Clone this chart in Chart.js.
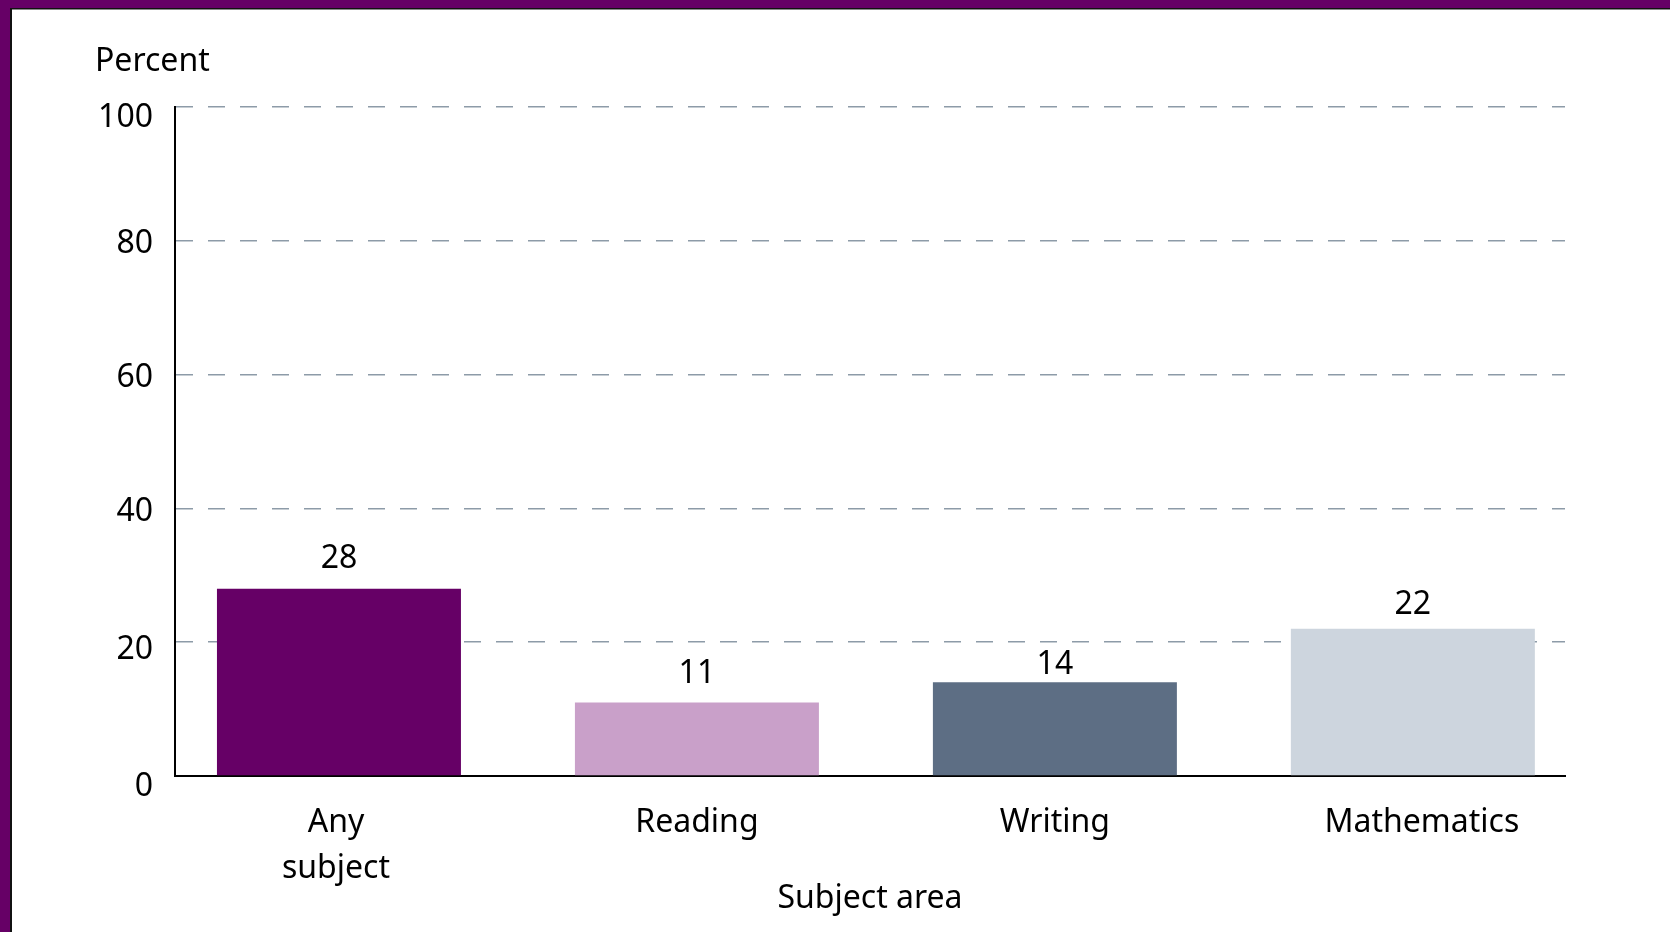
<!DOCTYPE html>
<html>
<head>
<meta charset="utf-8">
<script src="https://cdn.jsdelivr.net/npm/chart.js@4/dist/chart.umd.min.js"></script>
<style>
  html, body { margin: 0; padding: 0; background: #ffffff; }
  #wrap { position: relative; width: 1670px; height: 932px; overflow: hidden; background: #ffffff; }
  #c { position: absolute; left: 0; top: 0; }
  .edge { position: absolute; pointer-events: none; }
</style>
</head>
<body>
<div id="wrap">
  <canvas id="c" width="1670" height="932"></canvas>
  <div class="edge" style="left:0;top:0;width:1670px;height:8px;background:#660066;"></div>
  <div class="edge" style="left:10px;top:8px;width:1660px;height:1px;background:#111;"></div>
  <div class="edge" style="left:10px;top:9px;width:1660px;height:1px;background:#888;"></div>
  <div class="edge" style="left:0;top:0;width:10px;height:932px;background:#660066;"></div>
  <div class="edge" style="left:10px;top:8px;width:2px;height:924px;background:#111;"></div>
</div>
<script>
// ---- data ----
const categories = [["Any", "subject"], "Reading", "Writing", "Mathematics"];
const values = [28, 11, 14, 22];
const yTicks = [0, 20, 40, 60, 80, 100];

// ---- styling ----
const barColors = ["#660066", "#C9A0C9", "#5D6E84", "#CDD5DE"];
const labelGaps = [21, 19, 8, 15];          // value label baseline above bar top
const yLabelNudge = [11, 8, 3, 3, 3, 11];   // tick label vertical nudge (per tick)
const xLabelNudge = [-3, 0, 0, 9];          // category label horizontal nudge

const FONT = "'Noto Sans', 'Open Sans', sans-serif";

const valueLabels = {
  id: 'valueLabels',
  afterDatasetsDraw(chart) {
    const ctx = chart.ctx;
    const meta = chart.getDatasetMeta(0);
    ctx.save();
    ctx.font = "32px " + FONT;
    ctx.fillStyle = "#000";
    ctx.textAlign = "center";
    ctx.textBaseline = "alphabetic";
    meta.data.forEach((el, i) => {
      ctx.fillText(String(values[i]), el.x, el.y - labelGaps[i]);
    });
    ctx.restore();
  }
};

const tickNudge = {
  id: 'tickNudge',
  afterLayout(chart) {
    const ys = chart.scales.y, xs = chart.scales.x;
    ys._labelItems = null;
    ys.getLabelItems(chart.chartArea).forEach((it, i) => {
      it.options.translation[1] += (yLabelNudge[i] || 0);
    });
    xs._labelItems = null;
    xs.getLabelItems(chart.chartArea).forEach((it, i) => {
      it.options.translation[0] += (xLabelNudge[i] || 0);
    });
  }
};

new Chart(document.getElementById('c'), {
  type: 'bar',
  data: {
    datasets: [{
      data: values.map((v, i) => ({ x: i, y: v })),
      backgroundColor: barColors,
      borderWidth: 0,
      categoryPercentage: 1,
      barPercentage: 0.6816
    }]
  },
  options: {
    responsive: false,
    animation: false,
    devicePixelRatio: 1,
    layout: { padding: { left: 95, right: 105, top: 0, bottom: 0 } },
    plugins: {
      legend: { display: false },
      tooltip: { enabled: false },
      title: {
        display: true,
        text: 'Percent',
        align: 'start',
        color: '#000',
        font: { family: FONT, size: 32, weight: 'normal' },
        padding: { top: 43, bottom: 25.6 }
      }
    },
    scales: {
      x: {
        type: 'linear',
        min: -0.458,
        max: 3.425,
        offset: false,
        z: 1,
        afterBuildTicks(scale) { scale.ticks = categories.map((c, i) => ({ value: i })); },
        afterFit(scale) { scale.height = 156; },
        grid: { display: false, drawTicks: false, offset: false },
        border: { display: true, color: '#000', width: 2 },
        ticks: {
          autoSkip: false,
          maxRotation: 0,
          padding: 24,
          color: '#000',
          font: { family: FONT, size: 32, lineHeight: 1.43 },
          callback: (v) => categories[v]
        },
        title: {
          display: true,
          text: 'Subject area',
          color: '#000',
          font: { family: FONT, size: 32 },
          padding: { top: 0, bottom: 14 }
        }
      },
      y: {
        min: 0,
        max: 100,
        afterBuildTicks(scale) { scale.ticks = yTicks.map(v => ({ value: v })); },
        afterFit(scale) { scale.width = 80; },
        grid: { color: '#8D9BA8', lineWidth: 1.5, drawTicks: false },
        border: { display: true, color: '#000', width: 2, dash: [17, 15] },
        ticks: {
          padding: 22,
          color: '#000',
          font: { family: FONT, size: 32 }
        }
      }
    }
  },
  plugins: [valueLabels, tickNudge]
});
</script>
</body>
</html>
